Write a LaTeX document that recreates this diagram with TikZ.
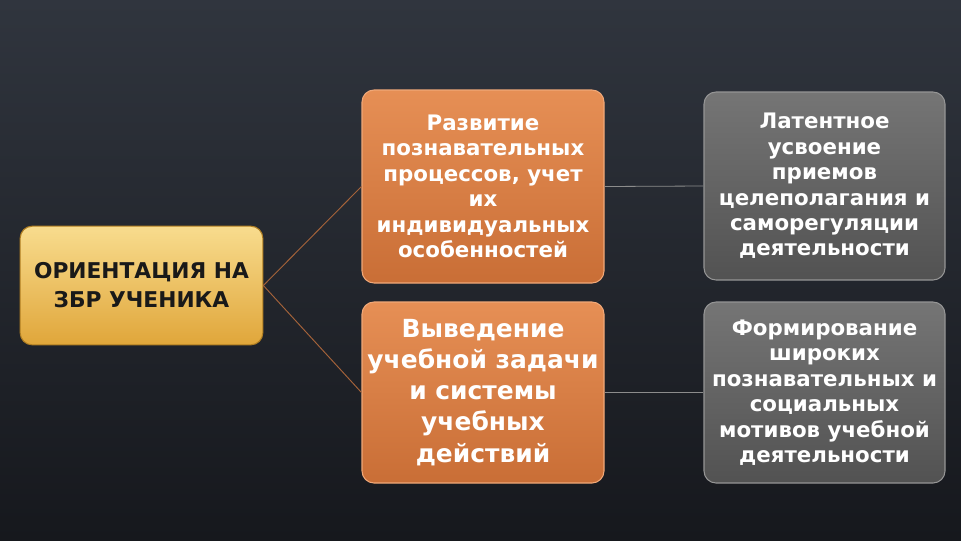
\documentclass[tikz,border=0pt]{standalone}
\usepackage{fontspec}
\setmainfont{DejaVu Sans}
\definecolor{bgtop}{HTML}{30353E}
\definecolor{bgbot}{HTML}{16181D}
\definecolor{goldtop}{HTML}{F8DC8E}
\definecolor{goldbot}{HTML}{E0A63A}
\definecolor{goldline}{HTML}{B07E22}
\definecolor{ortop}{HTML}{E68F55}
\definecolor{orbot}{HTML}{C96E36}
\definecolor{orline}{HTML}{F0A878}
\definecolor{grtop}{HTML}{757575}
\definecolor{grbot}{HTML}{525252}
\definecolor{grline}{HTML}{959595}
\definecolor{conor}{HTML}{A5633A}
\definecolor{congr}{HTML}{8C8C8C}
\tikzset{
  basebox/.style={rounded corners=9pt, line width=0.8pt, align=center, inner sep=1pt},
  goldbox/.style={basebox, top color=goldtop, bottom color=goldbot, draw=goldline,
    minimum width=182pt, minimum height=89pt, text=black!90,
    font=\bfseries\fontsize{16.3}{21.75}\selectfont},
  orbox/.style={basebox, top color=ortop, bottom color=orbot, draw=orline,
    minimum width=181.5pt, text=white},
  grbox/.style={basebox, top color=grtop, bottom color=grbot, draw=grline,
    minimum width=180.75pt, text=white},
  smalltext/.style={font=\bfseries\fontsize{16}{19.1}\selectfont},
  bigtext/.style={font=\bfseries\fontsize{18.7}{23.3}\selectfont},
  orlink/.style={draw=conor, line width=0.7pt},
  grlink/.style={draw=congr, line width=0.6pt},
}
\begin{document}
\begin{tikzpicture}[x=0.75pt,y=-0.75pt]
\useasboundingbox (0,0) rectangle (961,540);
\shade[top color=bgtop, bottom color=bgbot] (0,0) rectangle (961,540);

\node[goldbox] (gold) at (141.5,285.5) {ОРИЕНТАЦИЯ НА\\ЗБР УЧЕНИКА};
\node[orbox, smalltext, minimum height=144.75pt] (o1) at (483,186.5)
  {Развитие\\познавательных\\процессов, учет\\их\\индивидуальных\\особенностей};
\node[orbox, bigtext, minimum height=135.75pt] (o2) at (483,392.5)
  {Выведение\\учебной задачи\\и системы\\учебных\\действий};
\node[grbox, smalltext, minimum height=141pt] (g1) at (824.5,186)
  {Латентное\\усвоение\\приемов\\целеполагания и\\саморегуляции\\деятельности};
\node[grbox, smalltext, minimum height=135.75pt] (g2) at (824.5,392.5)
  {Формирование\\широких\\познавательных и\\социальных\\мотивов учебной\\деятельности};

\draw[orlink] (gold.east) -- (o1.west);
\draw[orlink] (gold.east) -- (o2.west);
\draw[grlink] (o1.east) -- (g1.west);
\draw[grlink] (o2.east) -- (g2.west);
\end{tikzpicture}
\end{document}
